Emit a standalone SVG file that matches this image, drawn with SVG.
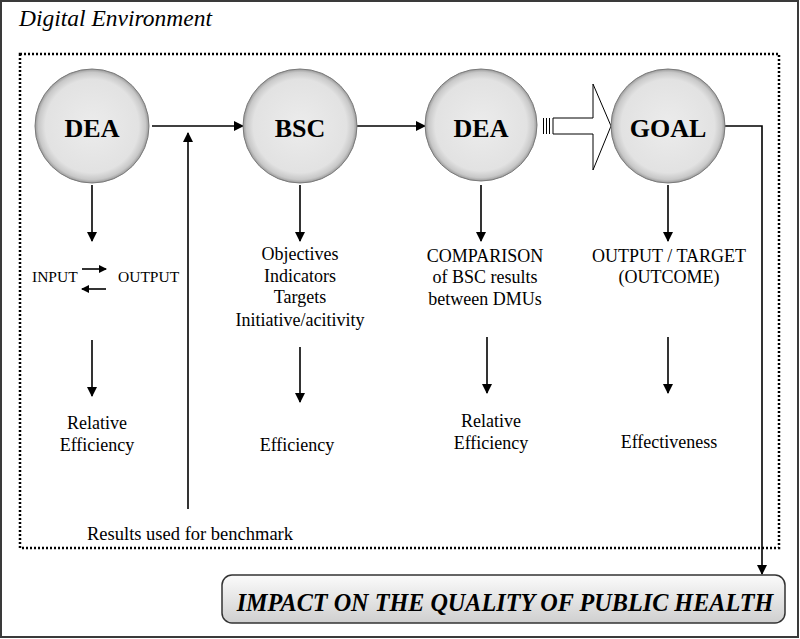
<svg xmlns="http://www.w3.org/2000/svg" width="800" height="639" viewBox="0 0 800 639" font-family="'Liberation Serif', 'DejaVu Serif', serif">
<style>
text{font-family:'Liberation Serif','DejaVu Serif',serif;fill:#000}
.n{font-size:26px;font-weight:bold;text-anchor:middle}
.b{font-size:18px;text-anchor:middle}
.s{font-size:15.5px}
.ln{stroke:#000;stroke-width:1.6;fill:none}
.circ{fill:url(#cg);stroke:#7a7a7a;stroke-width:1}
</style>
<defs>
<radialGradient id="cg" cx="50%" cy="50%" r="50%">
<stop offset="0" stop-color="#ececec"/>
<stop offset="0.82" stop-color="#e2e2e2"/>
<stop offset="0.94" stop-color="#c8c8c8"/>
<stop offset="1" stop-color="#9a9a9a"/>
</radialGradient>
<linearGradient id="bg" x1="0" y1="0" x2="0" y2="1">
<stop offset="0" stop-color="#fbfbfb"/>
<stop offset="1" stop-color="#cfcfcf"/>
</linearGradient>
<marker id="ah" markerWidth="10" markerHeight="10" refX="9" refY="5" orient="auto" markerUnits="userSpaceOnUse">
<path d="M0,0 L10,5 L0,10 Z" fill="#000"/>
</marker>
<marker id="ahs" markerWidth="8" markerHeight="8" refX="7" refY="4" orient="auto" markerUnits="userSpaceOnUse">
<path d="M0,0 L8,4 L0,8 Z" fill="#000"/>
</marker>
</defs>
<rect width="800" height="639" fill="#fff"/>
<rect x="1" y="1" width="797" height="636" fill="none" stroke="#3a3a3a" stroke-width="2"/>
<text x="19" y="26" font-size="23.5" font-style="italic">Digital Environment</text>
<rect x="20" y="54" width="759" height="494" fill="none" stroke="#000" stroke-width="2.5" stroke-dasharray="2 2"/>

<g id="connectors">
<line class="ln" x1="152" y1="126" x2="243" y2="126" marker-end="url(#ah)"/>
<line class="ln" x1="357" y1="126" x2="425" y2="126" marker-end="url(#ah)"/>
<line class="ln" x1="188" y1="509" x2="188" y2="133" marker-end="url(#ah)"/>
<polyline class="ln" points="725,126 762,126 762,574" marker-end="url(#ah)"/>
<g id="bigarrow" stroke="#000" stroke-width="1" fill="#fff">
<line x1="543.5" y1="118" x2="543.5" y2="134"/>
<line x1="546.5" y1="118" x2="546.5" y2="134"/>
<line x1="549.5" y1="118" x2="549.5" y2="134"/>
<path d="M553,118 L593,118 L593,84 L611,126 L593,170 L593,134 L553,134 Z"/>
</g>
<line class="ln" x1="92" y1="185" x2="92" y2="241" marker-end="url(#ah)"/>
<line class="ln" x1="92" y1="340" x2="92" y2="396" marker-end="url(#ah)"/>
<line class="ln" x1="82" y1="269" x2="106" y2="269" marker-end="url(#ahs)"/>
<line class="ln" x1="106" y1="289" x2="82" y2="289" marker-end="url(#ahs)"/>
<line class="ln" x1="300" y1="185" x2="300" y2="241" marker-end="url(#ah)"/>
<line class="ln" x1="300" y1="347" x2="300" y2="402" marker-end="url(#ah)"/>
<line class="ln" x1="481" y1="185" x2="481" y2="241" marker-end="url(#ah)"/>
<line class="ln" x1="487" y1="337" x2="487" y2="393" marker-end="url(#ah)"/>
<line class="ln" x1="668" y1="185" x2="668" y2="241" marker-end="url(#ah)"/>
<line class="ln" x1="668" y1="337" x2="668" y2="393" marker-end="url(#ah)"/>
</g>

<g id="node-dea1">
<circle class="circ" cx="92" cy="126" r="57"/>
<text class="n" x="92" y="137">DEA</text>
</g>
<g id="node-bsc">
<circle class="circ" cx="300" cy="126" r="57"/>
<text class="n" x="300" y="137">BSC</text>
</g>
<g id="node-dea2">
<circle class="circ" cx="481" cy="125" r="56"/>
<text class="n" x="481" y="137">DEA</text>
</g>
<g id="node-goal">
<circle class="circ" cx="668" cy="126" r="57"/>
<text class="n" x="668" y="137">GOAL</text>
</g>

<g id="labels-dea1">
<text class="s" x="32" y="282">INPUT</text>
<text class="s" x="118" y="282">OUTPUT</text>
<text class="b" x="97" y="429">Relative</text>
<text class="b" x="97" y="451">Efficiency</text>
</g>
<g id="labels-bsc">
<text class="b" x="300" y="260">Objectives</text>
<text class="b" x="300" y="282">Indicators</text>
<text class="b" x="300" y="303">Targets</text>
<text class="b" x="300" y="326">Initiative/acitivity</text>
<text class="b" x="297" y="451">Efficiency</text>
</g>
<g id="labels-dea2">
<text class="b" x="485" y="262">COMPARISON</text>
<text class="b" x="485" y="283">of BSC results</text>
<text class="b" x="485" y="305">between DMUs</text>
<text class="b" x="491" y="427">Relative</text>
<text class="b" x="491" y="449">Efficiency</text>
</g>
<g id="labels-goal">
<text class="b" x="669" y="262">OUTPUT / TARGET</text>
<text class="b" x="669" y="283">(OUTCOME)</text>
<text class="b" x="669" y="448">Effectiveness</text>
</g>
<text x="87" y="540" font-size="18.5">Results used for benchmark</text>

<g id="node-impact">
<rect x="222" y="575" width="563" height="48" rx="10" fill="url(#bg)" stroke="#333" stroke-width="1.5"/>
<text x="505" y="611" font-size="24.2" font-weight="bold" font-style="italic" text-anchor="middle">IMPACT ON THE QUALITY OF PUBLIC HEALTH</text>
</g>
</svg>
